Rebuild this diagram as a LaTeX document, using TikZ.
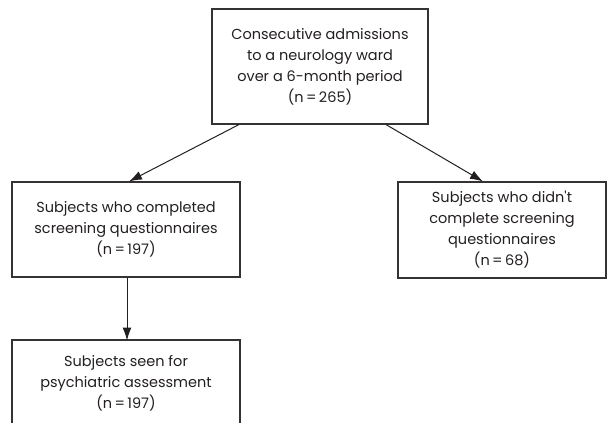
\documentclass[tikz,border=0pt]{standalone}
\usepackage{fontspec}
\setmainfont{Poppins}
\usetikzlibrary{arrows.meta}
\definecolor{ink}{HTML}{231F20}
\definecolor{edge}{HTML}{333333}
\begin{document}
\begin{tikzpicture}[x=1pt,y=-1pt,
  box/.style={draw=edge,line width=1.1pt,rectangle,align=center,inner sep=0pt,
    font=\fontsize{14.5}{21}\selectfont,text=ink},
  arr/.style={draw=ink,line width=1pt,-{Latex[length=13pt,width=9pt]}}]
\useasboundingbox (0,0) rectangle (608,423);
\node[box,minimum width=216pt,minimum height=115pt] (a) at (320,66.5)
  {Consecutive admissions\\to a neurology ward\\over a 6-month period\\(n\,=\,265)};
\node[box,minimum width=228pt,minimum height=95pt] (b) at (126,229.5)
  {Subjects who completed\\screening questionnaires\\(n\,=\,197)};
\node[box,minimum width=208pt,minimum height=96pt] (c) at (502,230)
  {Subjects who didn\textquotesingle t\\complete screening\\questionnaires\\(n\,=\,68)};
\node[box,draw=none,outer sep=0pt,minimum width=228pt,minimum height=83pt,text depth=0pt] (d) at (126,381.5)
  {Subjects seen for\\psychiatric assessment\\(n\,=\,197)};
\draw[draw=edge,line width=1.1pt] (d.south west) -- (d.north west) -- (d.north east) -- (d.south east);
\draw[arr] ([xshift=-81pt]a.south) -- ([xshift=3pt]b.north);
\draw[arr] ([xshift=66pt]a.south) -- ([xshift=-19pt]c.north);
\draw[arr] ([xshift=1pt]b.south) -- ([xshift=1pt,yshift=-0.5pt]d.north);
\end{tikzpicture}
\end{document}
